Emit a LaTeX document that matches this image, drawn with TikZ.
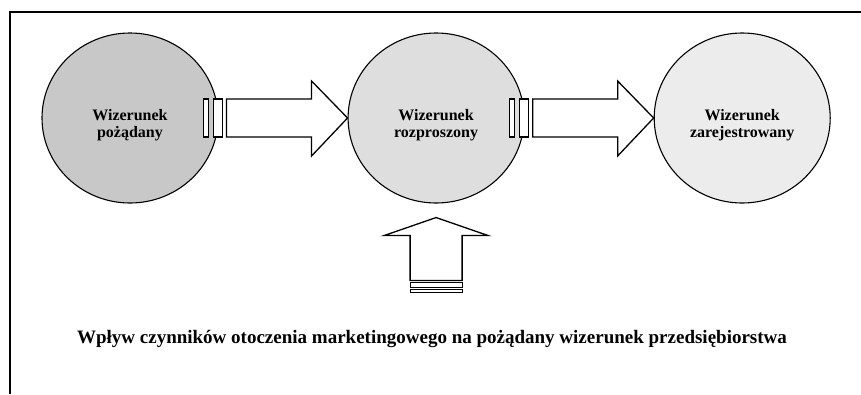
\documentclass[tikz,border=0pt]{standalone}
\usepackage{fontspec}
\setmainfont{Liberation Serif}
\usetikzlibrary{positioning,shapes.geometric,calc}
\definecolor{szary1}{RGB}{200,200,200}
\definecolor{szary2}{RGB}{222,222,222}
\definecolor{szary3}{RGB}{236,236,236}
\begin{document}
\begin{tikzpicture}[
    x=1pt, y=1pt,
    node distance=129pt,
    obraz/.style={draw, line width=1.1pt, ellipse, minimum width=176pt, minimum height=170pt,
        inner sep=0pt},
    napis/.style={align=center, yshift=-7pt, font=\fontsize{16}{17.5}\selectfont\bfseries},
    strzalka/.style={draw, line width=1.3pt, fill=white, line join=miter},
    pasek/.style={draw, line width=1.1pt, fill=white}
]
\useasboundingbox (0,0) rectangle (861,-394);
\draw[line width=1.1pt] (861,-12) -- (10,-12) -- (10,-394);
\node[obraz, fill=szary1, label={[napis]center:{Wizerunek\\pożądany}}] (pozadany) at (130,-118) {};
\node[obraz, fill=szary2, right=of pozadany,
    label={[napis]center:{Wizerunek\\rozproszony}}] (rozproszony) {};
\node[obraz, fill=szary3, right=of rozproszony,
    label={[napis]center:{Wizerunek\\zarejestrowany}}] (zarejestrowany) {};
\node[font=\fontsize{19}{22}\selectfont\bfseries] (otoczenie) at (432,-339)
    {Wpływ czynników otoczenia marketingowego na pożądany wizerunek przedsiębiorstwa};
\draw[strzalka] (rozproszony.west) -- ++(-36,37) -- ++(0,-18) -- ++(-85,0)
    coordinate (s1) -- ++(0,-38) -- ++(85,0) -- ++(0,-19) -- cycle;
\draw[pasek] ($(s1)+(-13,0)$) rectangle ++(9,-38);
\draw[pasek] ($(s1)+(-23,0)$) rectangle ++(5,-38);
\draw[strzalka] (zarejestrowany.west) -- ++(-36,37) -- ++(0,-18) -- ++(-85,0)
    coordinate (s2) -- ++(0,-38) -- ++(85,0) -- ++(0,-19) -- cycle;
\draw[pasek] ($(s2)+(-13,0)$) rectangle ++(9,-38);
\draw[pasek] ($(s2)+(-23,0)$) rectangle ++(5,-38);
\draw[strzalka] ($(rozproszony.south)+(0,-14)$) -- ++(-52,-18) -- ++(26,0)
    -- ++(0,-45) coordinate (s3) -- ++(52,0) -- ++(0,45) -- ++(26,0) -- cycle;
\draw[pasek] ($(s3)+(0,-2)$) rectangle ++(52,-5);
\draw[pasek] ($(s3)+(0,-8.5)$) rectangle ++(52,-3);
\end{tikzpicture}
\end{document}
